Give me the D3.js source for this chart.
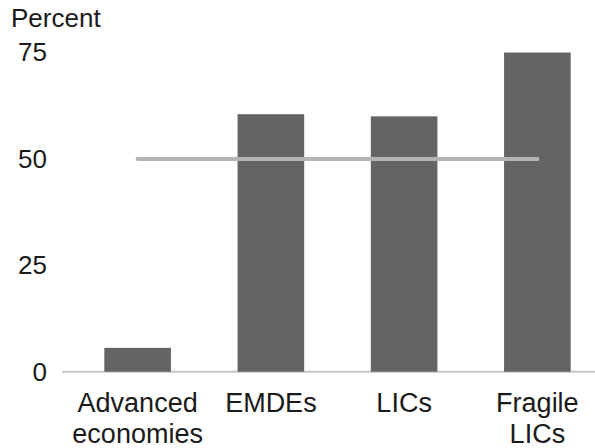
<!DOCTYPE html>
<html>
<head>
<meta charset="utf-8">
<script src="https://cdn.jsdelivr.net/npm/d3@7"></script>
<style>
  html, body { margin: 0; padding: 0; background: #fff; }
  svg { display: block; font-family: "Liberation Sans", Arial, sans-serif; }
</style>
</head>
<body>
<svg id="chart" width="595" height="448"></svg>
<script>
// Share of countries, by group (percent)
const categories = [["Advanced", "economies"], ["EMDEs"], ["LICs"], ["Fragile", "LICs"]];
const values = [5.6, 60.5, 60.0, 75.0];
const threshold = 50;
const yTicks = [0, 25, 50, 75];
const yTitle = "Percent";

const width = 595, height = 448;
const svg = d3.select("#chart");

const keys = categories.map(c => c.join(" "));
const x = d3.scaleBand()
  .domain(keys)
  .range([71, 604])
  .paddingInner(0.5)
  .paddingOuter(0.25);

const y = d3.scaleLinear()
  .domain([0, 75])
  .range([371.7, 52.5]);

// baseline
svg.append("line")
  .attr("x1", 62).attr("x2", width)
  .attr("y1", y(0)).attr("y2", y(0))
  .attr("stroke", "#c6c6c6")
  .attr("stroke-width", 2);

// bars
svg.append("g")
  .selectAll("rect")
  .data(values)
  .join("rect")
  .attr("x", (d, i) => x(keys[i]))
  .attr("width", x.bandwidth())
  .attr("y", d => y(d))
  .attr("height", d => y(0) - y(d))
  .attr("fill", "#646464");

// 50 percent reference line across the group centres
svg.append("line")
  .attr("x1", x(keys[0]) + x.bandwidth() / 2)
  .attr("x2", x(keys[keys.length - 1]) + x.bandwidth() / 2)
  .attr("y1", y(threshold)).attr("y2", y(threshold))
  .attr("stroke", "#b4b4b4")
  .attr("stroke-width", 4)
  .attr("stroke-linecap", "round");

// y axis labels
const yAxis = d3.axisLeft(y).tickValues(yTicks).tickSize(0).tickPadding(0);
const gy = svg.append("g").attr("transform", "translate(47,0)").call(yAxis);
gy.select(".domain").remove();
gy.selectAll("text")
  .attr("font-size", 26)
  .attr("font-family", "Liberation Sans, Arial, sans-serif")
  .attr("fill", "#1a1a1a");

// axis title
svg.append("text")
  .attr("x", 11).attr("y", 27)
  .attr("font-size", 26)
  .attr("fill", "#1a1a1a")
  .text(yTitle);

// category labels
const lab = svg.append("g").selectAll("text")
  .data(categories)
  .join("text")
  .attr("text-anchor", "middle")
  .attr("font-size", 27)
  .attr("fill", "#1a1a1a")
  .attr("transform", (d, i) => `translate(${x(keys[i]) + x.bandwidth() / 2},0)`);
lab.selectAll("tspan")
  .data(d => d)
  .join("tspan")
  .attr("x", 0)
  .attr("y", (d, j) => 412 + j * 31)
  .text(d => d);
</script>
</body>
</html>
